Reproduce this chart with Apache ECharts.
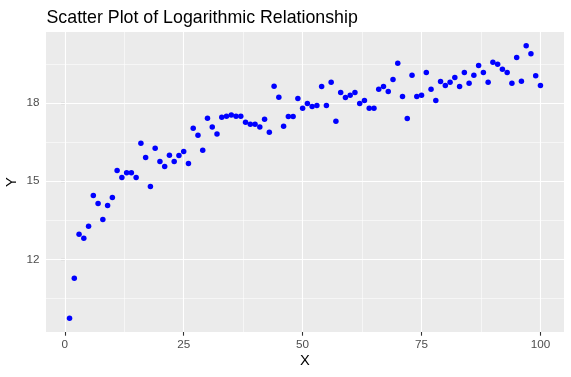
<!DOCTYPE html>
<html>
<head>
<meta charset="utf-8">
<script src="https://cdn.jsdelivr.net/npm/echarts@6/dist/echarts.min.js"></script>
<style>
html,body{margin:0;padding:0;background:#fff;}
#chart{width:571px;height:377px;}
</style>
</head>
<body>
<div id="chart"></div>
<script>
var xValues = [];
for (var i = 1; i <= 100; i++) xValues.push(i);
var yValues = [
  9.73, 11.27, 12.96, 12.81, 13.27, 14.45, 14.14, 13.53, 14.07, 14.37,
  15.41, 15.14, 15.33, 15.33, 15.14, 16.46, 15.91, 14.80, 16.27, 15.76,
  15.57, 16.00, 15.76, 15.99, 16.14, 15.68, 17.04, 16.77, 16.19, 17.42,
  17.08, 16.81, 17.46, 17.50, 17.54, 17.50, 17.50, 17.27, 17.19, 17.19,
  17.08, 17.38, 16.88, 18.65, 18.23, 17.11, 17.49, 17.49, 18.18, 17.80,
  17.99, 17.87, 17.91, 18.64, 17.91, 18.80, 17.30, 18.41, 18.22, 18.30,
  18.41, 17.99, 18.10, 17.80, 17.80, 18.53, 18.64, 18.45, 18.91, 19.53,
  18.26, 17.41, 19.07, 18.26, 18.30, 19.18, 18.53, 18.10, 18.83, 18.68,
  18.80, 18.99, 18.64, 19.18, 18.76, 19.07, 19.45, 19.18, 18.80, 19.57,
  19.49, 19.30, 19.18, 18.76, 19.75, 18.84, 20.21, 19.90, 19.05, 18.68
];
var xTicks = [0, 25, 50, 75, 100];
var xMinor = [12.5, 37.5, 62.5, 87.5];
var yTicks = [12, 15, 18];
var yMinor = [10.5, 13.5, 16.5, 19.5];

var title = 'Scatter Plot of Logarithmic Relationship';
var xName = 'X';
var yName = 'Y';

function expand(arr) {
  var mn = Math.min.apply(null, arr), mx = Math.max.apply(null, arr);
  var pad = (mx - mn) * 0.05;
  return [mn - pad, mx + pad];
}
var xr = expand(xValues), yr = expand(yValues);

var points = xValues.map(function (x, i) { return [x, yValues[i]]; });

var FONT = '"Liberation Sans", Arial, sans-serif';

function vline(v, w) { return { xAxis: v, lineStyle: { color: '#ffffff', width: w, type: 'solid' } }; }
function hline(v, w) { return { yAxis: v, lineStyle: { color: '#ffffff', width: w, type: 'solid' } }; }

var gridLines = []
  .concat(xMinor.map(function (v) { return vline(v, 0.55); }))
  .concat(yMinor.map(function (v) { return hline(v, 0.55); }))
  .concat(xTicks.map(function (v) { return vline(v, 1.1); }))
  .concat(yTicks.map(function (v) { return hline(v, 1.1); }));

var chart = echarts.init(document.getElementById('chart'), null, { renderer: 'canvas' });
chart.setOption({
  animation: false,
  backgroundColor: '#ffffff',
  title: {
    text: title,
    left: 41.5,
    top: 4,
    textStyle: { fontFamily: FONT, fontSize: 17.8, fontWeight: 'normal', color: '#000000' }
  },
  grid: {
    left: 46, right: 7, top: 32, bottom: 45,
    outerBoundsMode: 'none',
    containLabel: false,
    show: true, backgroundColor: '#EBEBEB', borderWidth: 0
  },
  xAxis: {
    type: 'value',
    min: xr[0], max: xr[1],
    name: xName,
    nameLocation: 'middle',
    nameGap: 21,
    nameMoveOverlap: false,
    nameTextStyle: { fontFamily: FONT, fontSize: 14.7, color: '#000000' },
    axisLine: { show: false },
    splitLine: { show: false },
    axisTick: { show: true, length: 3.7, customValues: xTicks, lineStyle: { color: '#333333', width: 1.1 } },
    axisLabel: { customValues: xTicks, margin: 7, fontFamily: FONT, fontSize: 11.7, color: '#4D4D4D' }
  },
  yAxis: {
    type: 'value',
    min: yr[0], max: yr[1],
    name: yName,
    nameLocation: 'middle',
    nameGap: 27,
    nameMoveOverlap: false,
    nameRotate: 90,
    nameTextStyle: { fontFamily: FONT, fontSize: 14.7, color: '#000000' },
    axisLine: { show: false },
    splitLine: { show: false },
    axisTick: { show: true, length: 3.7, customValues: yTicks, lineStyle: { color: '#333333', width: 1.1 } },
    axisLabel: { customValues: yTicks, margin: 6.5, fontFamily: FONT, fontSize: 11.7, color: '#4D4D4D' }
  },
  series: [
    {
      type: 'line',
      data: [],
      z: 1,
      silent: true,
      markLine: {
        z: 1,
        silent: true,
        symbol: ['none', 'none'],
        label: { show: false },
        emphasis: { disabled: true },
        animation: false,
        data: gridLines
      }
    },
    {
      type: 'scatter',
      z: 3,
      data: points,
      symbol: 'circle',
      symbolSize: 5.5,
      itemStyle: { color: '#0000FF', opacity: 1 }
    }
  ]
});
</script>
</body>
</html>
